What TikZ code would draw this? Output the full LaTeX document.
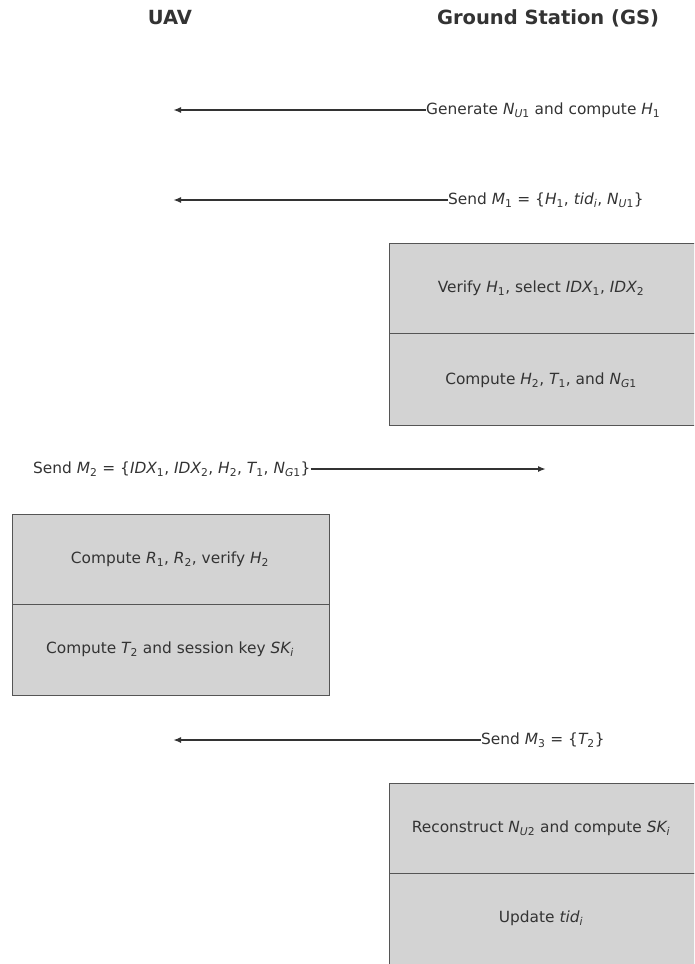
\documentclass[tikz,border=0pt]{standalone}
\usepackage{fontspec}
\setmainfont{DejaVu Sans}
\usetikzlibrary{arrows.meta}
\newcommand{\mi}[1]{{\itshape #1}}
\newcommand{\sbs}[1]{\textsubscript{#1}}
\definecolor{boxfill}{HTML}{D3D3D3}
\definecolor{boxline}{HTML}{555555}
\definecolor{txt}{HTML}{333333}
\begin{document}
\begin{tikzpicture}[x=1pt,y=-1pt,
  every node/.style={text=txt,font=\fontsize{15.4}{18}\selectfont,inner sep=0pt},
  title/.style={font=\fontsize{19.5}{22}\selectfont\bfseries},
  msg/.style={anchor=west},
  arr/.style={draw=black!80,line width=1.6pt,-{Latex[length=8pt,width=6pt]}},
  stepbox/.style={draw=boxline,fill=boxfill,line width=0.9pt}]
\useasboundingbox (0,0) rectangle (694,964);
\begin{scope}
\clip (0,0) rectangle (694,964);
% titles
\node[title] (uav) at (170,18) {UAV};
\node[title] (gs) at (548,18) {Ground Station (GS)};
% message 1
\node[msg] (m0) at (426,110) {Generate \mi{N}\sbs{\mi{U}1} and compute \mi{H}\sbs{1}};
\coordinate (m0e) at (173,110);
\draw[arr] (m0.west) -- (m0e);
% message 2
\node[msg] (m1) at (448,200) {Send \mi{M}\sbs{1} = \{\mi{H}\sbs{1}, \mi{tid}\sbs{\mi{i}}, \mi{N}\sbs{\mi{U}1}\}};
\coordinate (m1e) at (173,200);
\draw[arr] (m1.west) -- (m1e);
% GS box 1
\draw[stepbox] (389,243) rectangle (700,333);
\draw[stepbox] (389,333) rectangle (700,425);
\node (g1) at (541,288) {Verify \mi{H}\sbs{1}, select \mi{IDX}\sbs{1}, \mi{IDX}\sbs{2}};
\node (g2) at (541,380) {Compute \mi{H}\sbs{2}, \mi{T}\sbs{1}, and \mi{N}\sbs{\mi{G}1}};
% message 3
\node[msg] (m2) at (33,469) {Send \mi{M}\sbs{2} = \{\mi{IDX}\sbs{1}, \mi{IDX}\sbs{2}, \mi{H}\sbs{2}, \mi{T}\sbs{1}, \mi{N}\sbs{\mi{G}1}\}};
\coordinate (m2e) at (546,469);
\draw[arr] (m2.east) -- (m2e);
% UAV box
\draw[stepbox] (12,514) rectangle (329,604);
\draw[stepbox] (12,604) rectangle (329,695);
\node (u1) at (170,559) {Compute \mi{R}\sbs{1}, \mi{R}\sbs{2}, verify \mi{H}\sbs{2}};
\node (u2) at (170,649) {Compute \mi{T}\sbs{2} and session key \mi{SK}\sbs{\mi{i}}};
% message 4
\node[msg] (m3) at (481,740) {Send \mi{M}\sbs{3} = \{\mi{T}\sbs{2}\}};
\coordinate (m3e) at (173,740);
\draw[arr] (m3.west) -- (m3e);
% GS box 2
\draw[stepbox] (389,783) rectangle (700,873);
\draw[stepbox] (389,873) rectangle (700,970);
\node (g3) at (541,828) {Reconstruct \mi{N}\sbs{\mi{U}2} and compute \mi{SK}\sbs{\mi{i}}};
\node (g4) at (541,918) {Update \mi{tid}\sbs{\mi{i}}};
\end{scope}
\end{tikzpicture}
\end{document}
